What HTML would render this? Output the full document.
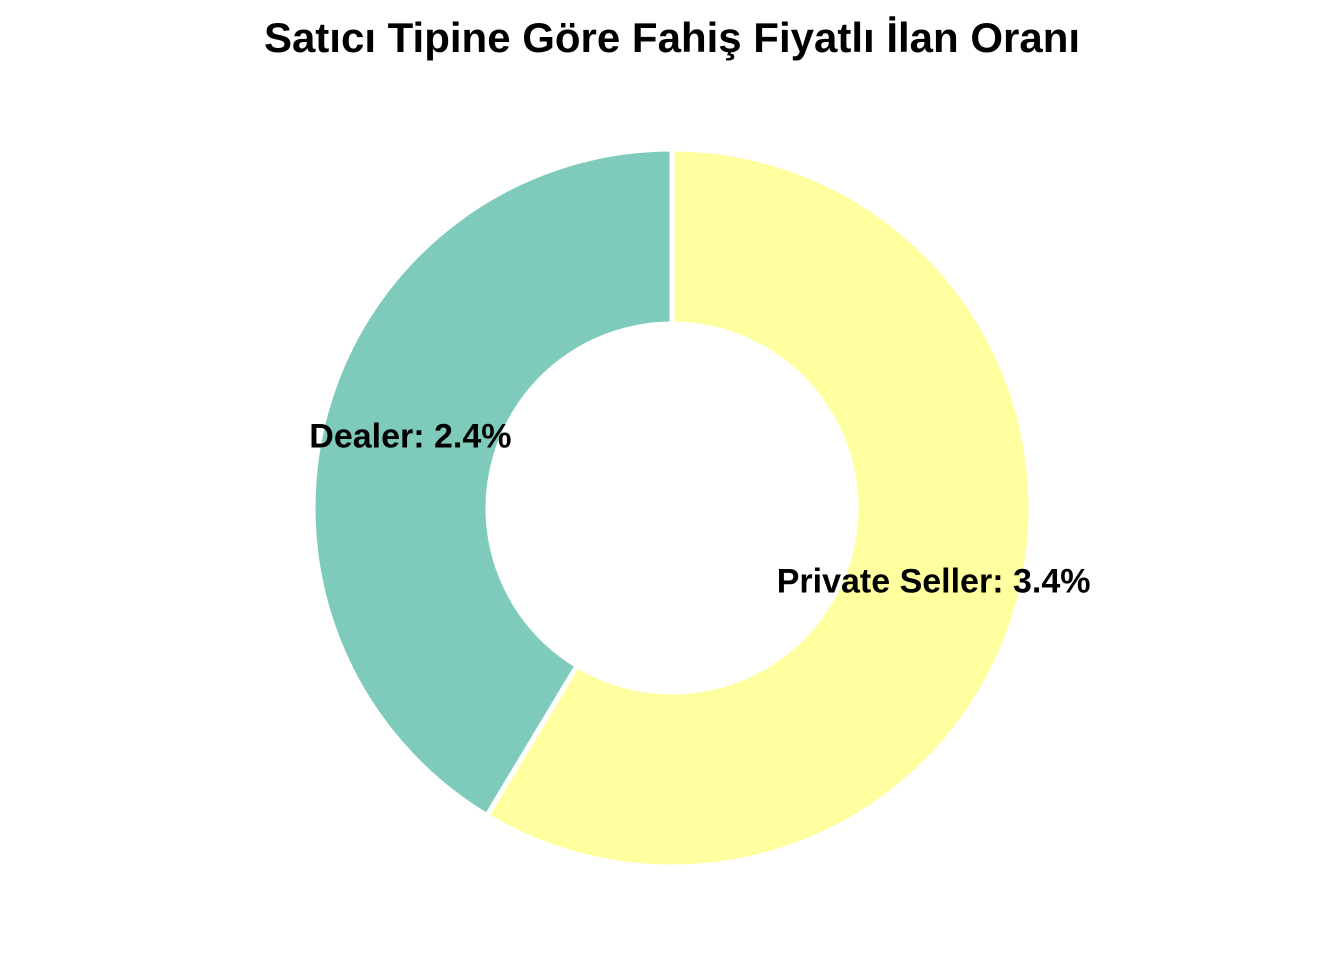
<!DOCTYPE html>
<html><head><meta charset="utf-8"><style>
html,body{margin:0;padding:0;background:#fff;}
svg{display:block;}
</style></head><body>
<svg width="1344" height="960" viewBox="0 0 1344 960">
<rect width="1344" height="960" fill="#fff"/>
<text x="672" y="52" text-anchor="middle" font-family="Liberation Sans, sans-serif" font-weight="bold" font-size="42" fill="#000">Satıcı Tipine Göre Fahiş Fiyatlı İlan Oranı</text>
<g id="slices"></g>
<g id="labels"></g>
</svg>
<script>
const categories = ["Private Seller", "Dealer"];
const values = [3.4, 2.4];
const labelTexts = ["Private Seller: 3.4%", "Dealer: 2.4%"];
const colors = ["#ffffa0", "#7fcbbb"];
const cx = 672, cy = 508, R = 359, r = 184;
const ns = "http://www.w3.org/2000/svg";
const total = values.reduce((a,b)=>a+b,0);
function pt(ang, rad){ return [cx + rad*Math.sin(ang), cy - rad*Math.cos(ang)]; }
let a0 = 0;
const gS = document.getElementById('slices'), gL = document.getElementById('labels');
values.forEach((v,i)=>{
  const a1 = a0 + v/total*2*Math.PI;
  const large = (a1-a0) > Math.PI ? 1 : 0;
  const [x1,y1]=pt(a0,R),[x2,y2]=pt(a1,R),[x3,y3]=pt(a1,r),[x4,y4]=pt(a0,r);
  const p = document.createElementNS(ns,'path');
  p.setAttribute('d',`M${x1},${y1}A${R},${R} 0 ${large} 1 ${x2},${y2}L${x3},${y3}A${r},${r} 0 ${large} 0 ${x4},${y4}Z`);
  p.setAttribute('fill',colors[i]);
  p.setAttribute('stroke','#fff');
  p.setAttribute('stroke-width','5');
  
  
  gS.appendChild(p);
  const am = (a0+a1)/2;
  const [lx,ly] = pt(am,(R+r)/2);
  const t = document.createElementNS(ns,'text');
  t.setAttribute('x',lx); t.setAttribute('y',ly+12);
  t.setAttribute('text-anchor','middle');
  t.setAttribute('font-family','Liberation Sans, sans-serif');
  t.setAttribute('font-weight','bold');
  t.setAttribute('font-size','34');
  t.textContent = labelTexts[i];
  
  
  gL.appendChild(t);
  a0 = a1;
});
</script>
</body></html>
